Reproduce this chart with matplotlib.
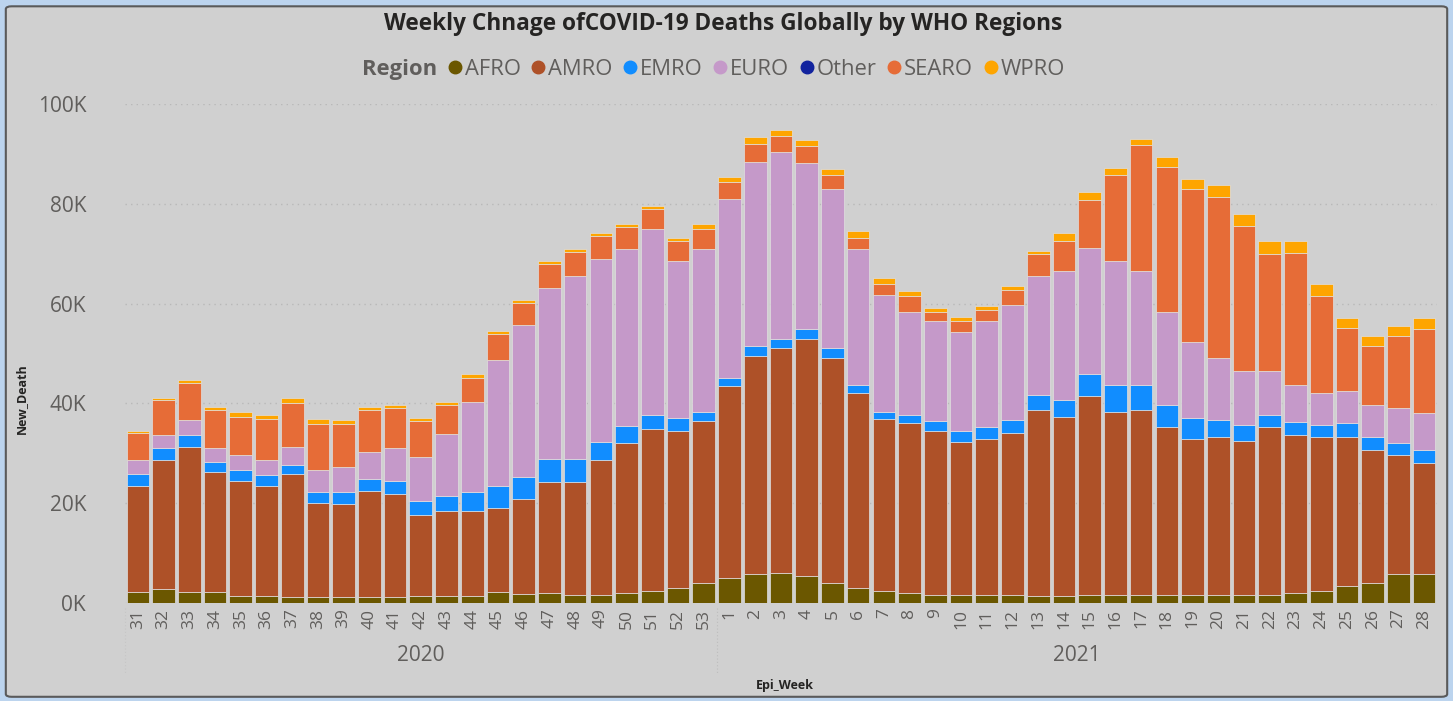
#!/usr/bin/env python3
"""
Weekly COVID-19 deaths by WHO region - stacked bars
"""

import matplotlib
matplotlib.use('Agg')
import matplotlib.pyplot as plt
from matplotlib.lines import Line2D
from matplotlib.patches import FancyBboxPatch
import matplotlib.transforms as mtransforms
import numpy as np

# epi weeks: 2020 w31-53, 2021 w1-28
weeks_2020 = list(range(31, 54))
weeks_2021 = list(range(1, 29))
week_labels = [str(w) for w in weeks_2020 + weeks_2021]

# deaths in thousands, per region
afro = [2.2, 2.8, 2.2, 2.2, 1.5, 1.5, 1.2, 1.2, 1.2, 1.2, 1.2, 1.5, 1.5, 1.5, 2.2, 1.8, 2.1, 1.7, 1.7, 2.0,
        2.4, 3.1, 4.1,
        5.1, 5.8, 6.1, 5.4, 4.1, 3.1, 2.4, 2.0, 1.7, 1.7, 1.7, 1.7, 1.4, 1.4, 1.7, 1.7, 1.7, 1.7, 1.7, 1.7,
        1.7, 1.7, 2.0, 2.4, 3.4, 4.1, 5.8, 5.8]
amro = [21.3, 25.8, 29.1, 24.0, 23.0, 22.0, 24.7, 18.9, 18.6, 21.3, 20.6, 16.1, 16.9, 16.9, 16.9, 19.0, 22.1,
        22.5, 26.9, 30.0, 32.5, 31.3, 32.3,
        38.3, 43.7, 45.0, 47.4, 45.0, 38.9, 34.5, 34.1, 32.7, 30.6, 31.2, 32.3, 37.2, 35.9, 39.7, 36.6, 36.9,
        33.6, 31.2, 31.5, 30.8, 33.6, 31.6, 30.8, 29.8, 26.5, 23.8, 22.3]
emro = [2.4, 2.4, 2.3, 2.1, 2.1, 2.1, 1.7, 2.1, 2.4, 2.4, 2.7, 2.9, 3.1, 3.8, 4.4, 4.4, 4.7, 4.7, 3.7, 3.4,
        2.7, 2.7, 1.9,
        1.7, 2.0, 1.7, 2.0, 2.0, 1.7, 1.4, 1.5, 2.0, 2.1, 2.4, 2.7, 3.1, 3.4, 4.4, 5.4, 5.1, 4.4, 4.2, 3.5,
        3.1, 2.3, 2.7, 2.4, 2.9, 2.6, 2.4, 2.5]
euro = [2.7, 2.6, 3.1, 2.7, 3.0, 3.0, 3.7, 4.4, 5.1, 5.4, 6.5, 8.8, 12.4, 18.1, 25.1, 30.5, 34.3, 36.7,
        36.6, 35.6, 37.3, 31.5, 32.7,
        35.8, 36.9, 37.6, 33.3, 31.9, 27.3, 23.5, 20.8, 20.1, 19.8, 21.2, 23.1, 23.9, 25.9, 25.4, 24.9, 22.9,
        18.7, 15.1, 12.4, 10.8, 8.8, 7.4, 6.4, 6.3, 6.5, 7.0, 7.4]
other = [0.0] * 51
searo = [5.4, 7.1, 7.4, 7.6, 7.7, 8.3, 8.7, 9.3, 8.6, 8.3, 8.0, 7.1, 5.8, 4.8, 5.2, 4.4, 4.7, 4.7, 4.7, 4.3,
         4.1, 3.9, 3.9,
         3.4, 3.6, 3.1, 3.4, 2.7, 2.2, 2.1, 3.1, 1.9, 2.3, 2.3, 3.0, 4.4, 5.9, 9.5, 17.1, 25.2, 28.9, 30.8,
         32.2, 29.2, 23.6, 26.5, 19.5, 12.6, 11.8, 14.5, 16.8]
wpro = [0.4, 0.4, 0.6, 0.7, 1.0, 0.7, 1.0, 1.0, 0.7, 0.7, 0.7, 0.7, 0.6, 0.7, 0.7, 0.7, 0.7, 0.7, 0.6, 0.6,
        0.6, 0.7, 1.0,
        1.1, 1.4, 1.3, 1.2, 1.2, 1.4, 1.3, 1.0, 0.7, 0.9, 0.7, 0.7, 0.6, 1.7, 1.6, 1.4, 1.2, 2.1, 2.0, 2.4,
        2.4, 2.5, 2.3, 2.4, 2.1, 2.0, 2.0, 2.3]

regions = ['AFRO', 'AMRO', 'EMRO', 'EURO', 'Other', 'SEARO', 'WPRO']
series = [afro, amro, emro, euro, other, searo, wpro]
colors = ['#6b5700', '#ae5128', '#118dff', '#c599c9', '#12239e', '#e66c37', '#fea500']

BG = '#d0d0d0'
TXT = '#605e5c'

plt.rcParams['font.family'] = ['Open Sans', 'DejaVu Sans']

fig = plt.figure(figsize=(14.53, 7.01), dpi=100)
fig.patch.set_facecolor('#bcd4ee')

# panel frame (kept behind the axes)
panel = FancyBboxPatch((0.004, 0.006), 0.992, 0.985, boxstyle='round,pad=0,rounding_size=0.004',
                       transform=fig.transFigure, facecolor=BG, edgecolor='#5a5a5a', linewidth=1.5,
                       zorder=-10)
fig.patches.append(panel)

ax = fig.add_axes([0.086, 0.1398, 0.903, 0.712])
ax.set_facecolor(BG)

x = np.arange(len(week_labels))
bottom = np.zeros(len(x))
for name, vals, col in zip(regions, series, colors):
    vals = np.array(vals)
    ax.bar(x, vals, bottom=bottom, width=0.88, color=col, edgecolor='#e0e0e0',
           linewidth=0.5, label=name)
    bottom += vals

ax.set_xlim(-0.5, len(x) - 0.5)
ax.set_ylim(0, 100)
ax.set_yticks([0, 20, 40, 60, 80, 100])
ax.set_yticklabels(['0K', '20K', '40K', '60K', '80K', '100K'])
ax.set_xticks(x)
ax.set_xticklabels(week_labels, rotation=90)
ax.tick_params(axis='y', length=0, labelsize=15, labelcolor=TXT, pad=28)
ax.tick_params(axis='x', length=0, labelsize=12.5, labelcolor=TXT, pad=4)
ax.grid(True, axis='y', color='#b8b8b8', linestyle=(0, (1, 3)), linewidth=1)
ax.set_axisbelow(True)
for s in ax.spines.values():
    s.set_visible(False)

ax.set_ylabel('New_Death', fontsize=9, fontweight='bold', color='#252423')
ax.yaxis.set_label_coords(-0.074, 0.41)

# year groups under week labels
trans = mtransforms.blended_transform_factory(ax.transData, ax.transAxes)
n20 = len(weeks_2020)
ax.text((n20 - 1) / 2, -0.105, '2020', transform=trans, ha='center', va='center',
        fontsize=15, color=TXT)
ax.text(n20 + (len(weeks_2021) - 1) / 2, -0.105, '2021', transform=trans, ha='center',
        va='center', fontsize=15, color=TXT)
ax.plot([n20 - 0.5, n20 - 0.5], [-0.01, -0.14], transform=trans, color='#bdbdbd',
        linestyle=(0, (1, 2)), linewidth=0.8, clip_on=False)
ax.plot([-0.5, -0.5], [-0.01, -0.14], transform=trans, color='#c6c6c6',
        linestyle=(0, (1, 2)), linewidth=0.8, clip_on=False)
ax.text(0.503, -0.165, 'Epi_Week', transform=ax.transAxes, ha='center', va='center',
        fontsize=9, fontweight='bold', color='#252423')

fig.text(0.498, 0.966, 'Weekly Chnage ofCOVID-19 Deaths Globally by WHO Regions',
         ha='center', va='center', fontsize=16.3, fontweight='bold', color='#252423')

handles = [Line2D([], [], linestyle='none', marker=None)]
labels = ['Region']
for name, col in zip(regions, colors):
    handles.append(Line2D([], [], linestyle='none', marker='o', markersize=9,
                          markerfacecolor=col, markeredgecolor=col))
    labels.append(name)
leg = fig.legend(handles, labels, loc='center', bbox_to_anchor=(0.4855, 0.901), ncol=8,
                 frameon=False, fontsize=15.8, handlelength=0.6, handletextpad=0.15,
                 columnspacing=0.5, labelcolor=TXT)
leg.get_texts()[0].set_fontweight('bold')

plt.savefig('out.png', dpi=100, facecolor=fig.get_facecolor())
plt.close()
print('Saved: out.png')
